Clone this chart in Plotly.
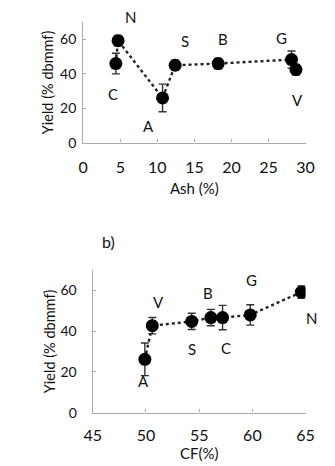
import plotly.graph_objects as go

# ---- data ----
labels = ["C", "N", "A", "S", "B", "G", "V"]
ash = [4.4, 4.7, 10.7, 12.4, 18.2, 28.1, 28.7]
yield_a = [46, 59.3, 26, 45, 46, 48.3, 42.5]
err_a = [6, 3, 8, 3, 3, 5, 3]

cf_labels = ["A", "V", "S", "B", "C", "G", "N"]
cf = [49.9, 50.6, 54.3, 56.1, 57.2, 59.8, 64.6]
yield_b = [26.2, 42.7, 44.8, 46.7, 46.7, 48, 59.2]
err_b = [8, 4, 4, 4, 6, 5, 3]

x_ticks_a = [0, 5, 10, 15, 20, 25, 30]
x_ticks_b = [45, 50, 55, 60, 65]
y_ticks = [0, 20, 40, 60]

# label offsets (px) for annotations
off_a = {"C": (-3, -30), "N": (12, 24), "A": (-14, -28), "S": (10, 24), "B": (5, 25), "G": (-10, 22), "V": (2, -30)}
off_b = {"A": (-1, -22), "V": (6, 24), "S": (0, -28), "B": (-3, 25), "C": (3, -30), "G": (1, 35), "N": (10, -26)}

FONT = "Lato"
fig = go.Figure()

common_marker = dict(size=13, color="black")
err_style = dict(type="data", thickness=1.4, width=4, color="#333")

fig.add_trace(go.Scatter(
    x=ash, y=yield_a, mode="lines+markers", marker=common_marker,
    line=dict(color="#222", width=2.4, dash="dot"),
    error_y=dict(array=err_a, **err_style), xaxis="x", yaxis="y", showlegend=False))
fig.add_trace(go.Scatter(
    x=cf, y=yield_b, mode="lines+markers", marker=common_marker,
    line=dict(color="#222", width=2.4, dash="dot"),
    error_y=dict(array=err_b, **err_style), xaxis="x2", yaxis="y2", showlegend=False))

annotations = []
for lab, x, y in zip(labels, ash, yield_a):
    dx, dy = off_a[lab]
    annotations.append(dict(x=x, y=y, xref="x", yref="y", text=lab, showarrow=False,
                            xshift=dx, yshift=dy, font=dict(family=FONT, size=15, color="#111")))
for lab, x, y in zip(cf_labels, cf, yield_b):
    dx, dy = off_b[lab]
    annotations.append(dict(x=x, y=y, xref="x2", yref="y2", text=lab, showarrow=False,
                            xshift=dx, yshift=dy, font=dict(family=FONT, size=15, color="#111")))
annotations.append(dict(x=88 / 335, y=1 - 238 / 466, xref="paper", yref="paper", text="b)",
                        showarrow=False, font=dict(family=FONT, size=16, color="#111")))

axis_common = dict(showline=True, linecolor="#aaa", linewidth=1.3, ticks="inside", ticklen=3,
                   tickcolor="#aaa", showgrid=False, zeroline=False)
xfont = dict(family=FONT, size=16, color="#111")
yfont = dict(family=FONT, size=14, color="#111")

fig.update_layout(
    width=335, height=466, margin=dict(l=0, r=0, t=0, b=0),
    plot_bgcolor="white", paper_bgcolor="white",
    font=dict(family=FONT, color="#111"),
    xaxis=dict(domain=[70 / 335, 305 / 335], range=[0, 30], tickvals=x_ticks_a, anchor="y",
               tickfont=xfont, ticklabelstandoff=10,
               title=dict(text="Ash (%)", font=dict(family=FONT, size=15), standoff=8), **axis_common),
    yaxis=dict(domain=[1 - 137 / 466, 1 - 14.5 / 466], range=[0, 70], tickvals=y_ticks, anchor="x",
               tickfont=yfont, ticklabelstandoff=3,
               title=dict(text="Yield (% dbmmf)", font=dict(family=FONT, size=14.5), standoff=2), **axis_common),
    xaxis2=dict(domain=[80 / 335, 305 / 335], range=[45, 65], tickvals=x_ticks_b, anchor="y2",
                tickfont=xfont, ticklabelstandoff=8,
                title=dict(text="CF(%)", font=dict(family=FONT, size=15), standoff=4), **axis_common),
    yaxis2=dict(domain=[1 - 411.7 / 466, 1 - 266.7 / 466], range=[0, 70], tickvals=y_ticks, anchor="x2",
                tickfont=yfont, ticklabelstandoff=12,
                title=dict(text="Yield (% dbmmf)", font=dict(family=FONT, size=14.5), standoff=1), **axis_common),
    annotations=annotations,
)

fig.write_html("out.html")
